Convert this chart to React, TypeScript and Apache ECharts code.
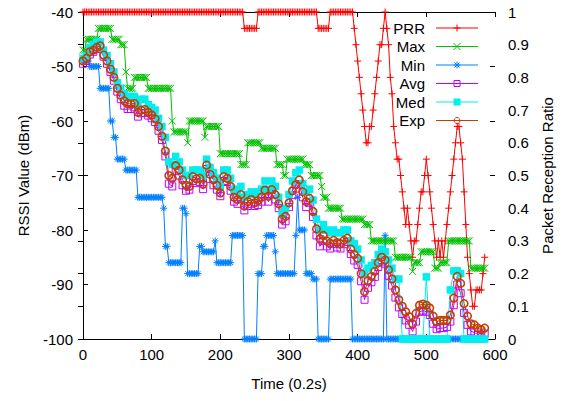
import React, { useEffect, useRef } from "react";
import * as echarts from "echarts";

// sampling steps (time units of 0.2 s)
const STEP_FINE = 2.5; // Max, Min, PRR
const STEP = 5; // Avg, Med, Exp

const MAX_RSSI = [
  -47, -47, -45, -45, -45, -45, -45, -45, -45, -43, -43, -43, -43, -43, -43, -43, -43, -45, -45, -45,
  -45, -45, -46, -46, -46, -51, -54, -54, -54, -54, -52, -52, -52, -52, -52, -52, -52, -52, -54, -54,
  -54, -54, -54, -54, -54, -54, -54, -54, -54, -54, -54, -54, -60, -62, -62, -62, -62, -62, -62, -62,
  -62, -64, -60, -60, -60, -60, -60, -60, -60, -60, -60, -63, -61, -61, -61, -61, -61, -61, -61, -61,
  -66, -66, -66, -66, -66, -66, -66, -66, -66, -66, -66, -66, -68, -68, -68, -68, -64, -64, -64, -64,
  -64, -64, -64, -64, -65, -65, -65, -65, -65, -65, -65, -65, -65, -68, -68, -68, -68, -70, -70, -67,
  -67, -67, -67, -67, -67, -67, -67, -67, -67, -68, -68, -68, -68, -70, -70, -70, -70, -70, -70, -72,
  -74, -74, -74, -76, -76, -76, -76, -76, -76, -76, -76, -78, -78, -78, -78, -78, -78, -78, -78, -78,
  -78, -78, -78, -78, -79, -79, -79, -79, -82, -82, -82, -82, -82, -82, -82, -82, -82, -82, -82, -82,
  -82, -82, -85, -85, -85, -85, -85, -85, -85, -85, -85, -85, -87.6, -86, -86, -86, -86, -84, -84, -84,
  -84, -84, -84, -84, -84, -87, -87, -87, -86, -86, -86, -86, -86, -82, -82, -82, -82, -82, -82, -82,
  -82, -82, -82, -82, -82, -82, -87, -87, -87, -87, -87, -87, -87, -87, -87,
];

const MIN_RSSI = [
  -49, -49, -49, -49, -50, -50, -50, -50, -50, -50, -54, -54, -54, -54, -54, -54, -60, -60, -63, -63,
  -67, -67, -67, -67, -67, -69, -69, -69, -69, -69, -69, -69, -74, -74, -74, -74, -74, -74, -74, -74,
  -74, -74, -74, -74, -74, -74, -74, -76, -83, -83, -86, -86, -86, -86, -86, -86, -86, -86, -76, -76,
  -77, -88, -88, -88, -88, -88, -88, -88, -83, -83, -84, -84, -84, -84, -84, -84, -84, -82, -86, -86,
  -86, -86, -86, -86, -86, -86, -86, -81, -81, -81, -81, -81, -81, -81, -100, -100, -100, -100, -100, -100,
  -100, -100, -88, -88, -88, -83, -83, -81, -81, -81, -81, -81, -84, -88, -88, -88, -88, -88, -88, -88,
  -88, -88, -88, -88, -81, -74, -80, -80, -80, -80, -88, -88, -88, -88, -89, -89, -89, -100, -100, -100,
  -100, -100, -100, -100, -89, -89, -89, -89, -89, -89, -89, -89, -89, -89, -89, -89, -89, -100, -100, -100,
  -100, -100, -100, -100, -100, -100, -100, -100, -100, -100, -100, -100, -100, -100, -100, -100, -81, -100, -100, -100,
  -100, -100, -100, -100, -100, -100, -100, -100, -100, -100, -100, -100, -100, -100, -100, -100, -100, -100, -100, -100,
  -100, -100, -100, -100, -100, -100, -100, -100, -100, -100, -100, -100, -100, -100, -100, -100, -100, -100, -100, -100,
  -100, -100, -100, -100, -100, -100, -100, -100, -100, -100, -100, -100, -100, -100, -100,
];

const PRR = [
  1, 1, 1, 1, 1, 1, 1, 1, 1, 1, 1, 1, 1, 1, 1, 1, 1, 1, 1, 1,
  1, 1, 1, 1, 1, 1, 1, 1, 1, 1, 1, 1, 1, 1, 1, 1, 1, 1, 1, 1,
  1, 1, 1, 1, 1, 1, 1, 1, 1, 1, 1, 1, 1, 1, 1, 1, 1, 1, 1, 1,
  1, 1, 1, 1, 1, 1, 1, 1, 1, 1, 1, 1, 1, 1, 1, 1, 1, 1, 1, 1,
  1, 1, 1, 1, 1, 1, 1, 1, 1, 1, 1, 1, 1, 1, 0.95, 0.95, 0.95, 0.95, 0.95, 0.95,
  0.95, 0.95, 1, 1, 1, 1, 1, 1, 1, 1, 1, 1, 1, 1, 1, 1, 1, 1, 1, 1,
  1, 1, 1, 1, 1, 1, 1, 1, 1, 1, 1, 1, 1, 1, 1, 1, 1, 0.95, 0.95, 0.95,
  0.95, 0.95, 0.95, 0.95, 1, 1, 1, 1, 1, 1, 1, 1, 1, 1, 1, 1, 1, 1, 0.95, 0.9,
  0.85, 0.8, 0.75, 0.7, 0.65, 0.6, 0.6, 0.65, 0.65, 0.7, 0.75, 0.8, 0.85, 0.9, 0.9, 0.95, 1, 0.95, 0.9, 0.8,
  0.75, 0.65, 0.6, 0.55, 0.55, 0.5, 0.45, 0.4, 0.35, 0.4, 0.35, 0.3, 0.25, 0.3, 0.3, 0.35, 0.4, 0.45, 0.45, 0.5,
  0.55, 0.5, 0.45, 0.4, 0.35, 0.3, 0.25, 0.3, 0.25, 0.3, 0.25, 0.3, 0.35, 0.4, 0.45, 0.5, 0.55, 0.6, 0.65, 0.65,
  0.6, 0.55, 0.45, 0.35, 0.25, 0.2, 0.15, 0.1, 0.1, 0.15, 0.15, 0.15, 0.15, 0.2, 0.25,
];

const AVG_RSSI = [
  -49.5, -49, -47.8, -47.3, -46.8, -46.5, -48.2, -49.5, -51, -52.6, -54.6, -56, -57.2, -57.8, -57.8, -57.5, -59.2, -58.6, -58.5, -59,
  -59.5, -60.2, -61.8, -63.5, -66.5, -71.5, -72, -69.2, -70, -71.8, -72.8, -72.6, -71, -71.4, -71.2, -72.5, -68.8, -70.6, -71.8, -72.6,
  -73.8, -71, -71.2, -72.8, -74.8, -75.2, -74.2, -76.4, -75.6, -75.2, -75.6, -75.4, -74.8, -73.4, -74.8, -73.4, -74.4, -76, -79, -78.4,
  -75.8, -73.6, -72.4, -71.6, -74, -75.8, -75, -77.6, -81, -83, -82, -83, -83.4, -82.6, -83.2, -83.4, -82.6, -82.2, -84.4, -85.6,
  -86.4, -89.4, -92.8, -90.6, -89.6, -88.6, -86.8, -85.8, -86.2, -88.4, -90.2, -92.4, -94.2, -95.4, -96.6, -97.4, -98.6, -96.8, -95, -94.8,
  -95, -95.6, -97.2, -98.2, -98, -98, -97.8, -96.8, -93.8, -90, -91.6, -95.2, -97.4, -98.6, -98.8, -99.2, -99.4, -99,
];

const MED_RSSI = [
  -48.5, -48, -46.5, -46, -45.5, -45.5, -47, -48, -49.5, -51, -53, -54, -55, -55.5, -55.5, -55.5, -57, -56, -56, -57,
  -57.5, -58, -59.5, -61, -63, -67.5, -68, -66.5, -67.5, -69, -70, -70, -69, -69, -69, -70, -67, -68.5, -69.5, -70.5,
  -72, -69, -69, -70.5, -72.5, -73, -72, -74, -73.5, -73, -73.5, -73, -72.5, -71, -72.5, -71, -72, -74, -77, -76,
  -73.5, -71, -69.5, -69, -71.5, -73, -72.5, -74.5, -78, -80, -79, -80, -80.5, -80, -80.5, -80.5, -80, -80, -82, -82.5,
  -83.5, -85.5, -88, -87, -86.5, -86, -84.5, -83.5, -84, -85.5, -87, -89, -89, -100, -100, -100, -100, -100, -100, -100,
  -88.6, -100, -100, -100, -100, -100, -100, -91, -87.5, -87.5, -88, -100, -100, -100, -100, -100, -100, -100,
];

const EXP_RSSI = [
  -49, -48.5, -47.3, -47, -46.5, -46.2, -47.9, -49, -50.5, -52, -54, -55.3, -56.3, -56.8, -56.9, -56.8, -58.4, -58, -57.9, -58.4,
  -58.9, -59.6, -61, -62.8, -65.5, -70, -70.5, -68.2, -69, -70.8, -71.8, -72, -70.2, -70.6, -70.5, -71.6, -68.1, -69.8, -70.8, -71.8,
  -73.2, -70.2, -70.5, -72, -74, -74.4, -73.5, -75.6, -74.8, -74.4, -75, -74.6, -74, -72.7, -73.8, -72.6, -73.5, -75.2, -78, -77.5,
  -75, -72.8, -71.7, -70.8, -73, -74.8, -74.2, -76.6, -79.8, -81.6, -81, -82, -82.4, -81.9, -82.3, -82.5, -81.9, -81.5, -83.5, -84.5,
  -85.2, -88, -91.3, -89.3, -88.5, -87.6, -86, -85, -85.5, -87.3, -89, -91, -92.8, -94, -95, -95.9, -97.2, -95.3, -93.8, -93.6,
  -93.8, -94.3, -95.8, -96.8, -96.6, -96.6, -96.6, -95.6, -92.5, -88.5, -89.8, -93.5, -95.8, -97.2, -97.4, -98, -98.3, -98,
];

const SERIES_NAMES = ["PRR", "Max", "Min", "Avg", "Med", "Exp"];
const COLORS = ["#ff0000", "#00c000", "#0080ff", "#c000ff", "#00eeee", "#c04000"];
const X_TICKS = [0, 600, 100];
const Y_TICKS = [-100, -40, 10];
const Y2_TICKS = [0, 1, 0.1];

const FONT = "Liberation Sans, Arial, Helvetica, sans-serif";

const PLUS = "path://M0,5L10,5M5,0L5,10";
const CROSS = "path://M0,0L10,10M0,10L10,0";
const STAR = "path://M0,5L10,5M5,0L5,10M1.5,1.5L8.5,8.5M1.5,8.5L8.5,1.5";

function legendMarker(i: number, cx: number, cy: number, color: string): any[] {
  const s = 3.5;
  const ln = (x1: number, y1: number, x2: number, y2: number) => ({
    type: "line",
    shape: { x1, y1, x2, y2 },
    style: { stroke: color, lineWidth: 1 },
  });
  if (i === 0) return [ln(cx - s, cy, cx + s, cy), ln(cx, cy - s, cx, cy + s)];
  if (i === 1) return [ln(cx - s, cy - s, cx + s, cy + s), ln(cx - s, cy + s, cx + s, cy - s)];
  if (i === 2)
    return [
      ln(cx - s, cy, cx + s, cy),
      ln(cx, cy - s, cx, cy + s),
      ln(cx - 2.5, cy - 2.5, cx + 2.5, cy + 2.5),
      ln(cx - 2.5, cy + 2.5, cx + 2.5, cy - 2.5),
    ];
  if (i === 3)
    return [{ type: "rect", shape: { x: cx - 3, y: cy - 3, width: 6, height: 6 }, style: { fill: "none", stroke: color, lineWidth: 1 } }];
  if (i === 4)
    return [{ type: "rect", shape: { x: cx - 3.5, y: cy - 3.5, width: 7, height: 7 }, style: { fill: color } }];
  return [{ type: "circle", shape: { cx, cy, r: 3 }, style: { fill: "none", stroke: color, lineWidth: 1 } }];
}

export default function App() {
  const ref = useRef<HTMLDivElement>(null);

  useEffect(() => {
    if (!ref.current) return;
    const chart = echarts.init(ref.current, undefined, { renderer: "svg" });
    const fine = (arr: number[]) => arr.map((v, i) => [i * STEP_FINE, v]);
    const coarse = (arr: number[]) => arr.map((v, i) => [i * STEP, v]);

    const symbols = [PLUS, CROSS, STAR, "rect", "rect", "circle"];
    const sizes = [7, 7, 7, 7, 7.5, 7.5];
    const datas = [fine(PRR), fine(MAX_RSSI), fine(MIN_RSSI), coarse(AVG_RSSI), coarse(MED_RSSI), coarse(EXP_RSSI)];

    const series = SERIES_NAMES.map((name, i) => ({
      name,
      type: "line",
      yAxisIndex: i === 0 ? 1 : 0,
      data: datas[i],
      symbol: symbols[i],
      symbolSize: sizes[i],
      clip: false,
      lineStyle: { color: COLORS[i], width: 1 },
      itemStyle:
        i === 4
          ? { color: COLORS[i], borderWidth: 0 }
          : { color: "transparent", borderColor: COLORS[i], borderWidth: i === 5 ? 1.6 : 1 },
      emphasis: { disabled: true },
      silent: true,
    }));

    const axisCommon = {
      axisLine: { show: true, lineStyle: { color: "#000", width: 1 } },
      axisTick: { show: true, inside: true, length: 5, lineStyle: { color: "#000" } },
      splitLine: { show: false },
    };
    const labelStyle = { color: "#000", fontSize: 15, fontFamily: FONT };
    const nameStyle = { color: "#000", fontSize: 15, fontFamily: FONT };

    const legendX = 425;
    const rowY = [28, 46.5, 65, 83.5, 102, 120.5];
    const legendEls: any[] = [];
    SERIES_NAMES.forEach((n, i) => {
      const y = rowY[i];
      legendEls.push({
        type: "text",
        x: legendX,
        y,
        style: { text: n, fill: "#000", font: `15px ${FONT}`, align: "right", verticalAlign: "middle" },
      });
      legendEls.push({
        type: "line",
        shape: { x1: 436, y1: y, x2: 478, y2: y },
        style: { stroke: COLORS[i], lineWidth: 1 },
      });
      legendMarker(i, 457, y, COLORS[i]).forEach((e) => legendEls.push(e));
    });

    chart.setOption({
      animation: false,
      backgroundColor: "#fff",
      grid: { left: 83, right: 70, top: 12, bottom: 62, containLabel: false },
      xAxis: [
        {
          type: "value",
          min: X_TICKS[0],
          max: X_TICKS[1],
          interval: X_TICKS[2],
          position: "bottom",
          ...axisCommon,
          axisLabel: { ...labelStyle, margin: 8 },
          name: "Time (0.2s)",
          nameLocation: "middle",
          nameGap: 37,
          nameTextStyle: nameStyle,
        },
        {
          type: "value",
          min: X_TICKS[0],
          max: X_TICKS[1],
          interval: X_TICKS[2],
          position: "top",
          ...axisCommon,
          axisLabel: { show: false },
        },
      ],
      yAxis: [
        {
          type: "value",
          min: Y_TICKS[0],
          max: Y_TICKS[1],
          interval: Y_TICKS[2],
          position: "left",
          ...axisCommon,
          axisLabel: { ...labelStyle, margin: 10 },
          name: "RSSI Value (dBm)",
          nameLocation: "middle",
          nameGap: 52,
          nameRotate: 90,
          nameTextStyle: nameStyle,
        },
        {
          type: "value",
          min: Y2_TICKS[0],
          max: Y2_TICKS[1],
          interval: Y2_TICKS[2],
          position: "right",
          ...axisCommon,
          axisLabel: { ...labelStyle, margin: 13 },
          name: "Packet Reception Ratio",
          nameLocation: "middle",
          nameGap: 45,
          nameRotate: 90,
          nameTextStyle: nameStyle,
        },
        {
          type: "value",
          min: Y_TICKS[0],
          max: Y_TICKS[1],
          interval: Y_TICKS[2],
          position: "right",
          axisLine: { show: false },
          axisTick: { show: true, inside: true, length: 5, lineStyle: { color: "#000" } },
          axisLabel: { show: false },
          splitLine: { show: false },
        },
      ],
      series,
      graphic: legendEls,
    });
    return () => chart.dispose();
  }, []);

  return <div ref={ref} style={{ position: "fixed", left: 0, top: 0, width: 565, height: 401, background: "#fff" }} />;
}
